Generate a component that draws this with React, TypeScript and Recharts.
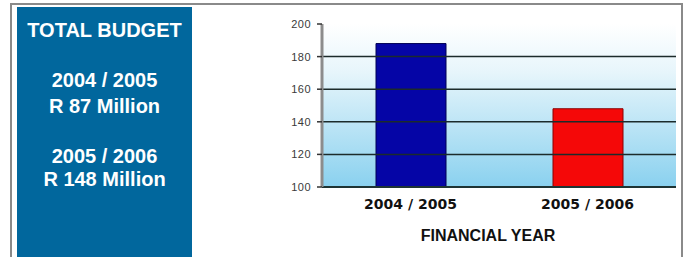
import React from 'react';
import { BarChart, Bar, XAxis, YAxis, ReferenceArea, ReferenceLine, Cell } from 'recharts';

const years = ['2004 / 2005', '2005 / 2006'];
const budgets = [188, 148];
const barColors = ['#0505a6', '#f50808'];
const barStrokes = ['#000055', '#8a0000'];
const yTicks = [100, 120, 140, 160, 180, 200];
const gridValues = [120, 140, 160, 180];
const summaryLines = [
  { text: 'TOTAL BUDGET', top: 17 },
  { text: '2004 / 2005', top: 67 },
  { text: 'R 87 Million', top: 93 },
  { text: '2005 / 2006', top: 143 },
  { text: 'R 148 Million', top: 166 },
];

const data = years.map((name, i) => ({ name, value: budgets[i] }));

export default function App() {
  return (
    <div
      style={{
        position: 'absolute',
        left: 0,
        top: 0,
        width: 685,
        height: 257,
        background: '#fff',
        overflow: 'hidden',
        fontFamily: '"Liberation Sans", Arial, sans-serif',
      }}
    >
      {/* outer frame */}
      <div
        style={{
          position: 'absolute',
          left: 10,
          top: 3,
          width: 669,
          height: 260,
          borderLeft: '2px solid #8a8a8a',
          borderTop: '2px solid #8a8a8a',
          borderRight: '2px solid #8a8a8a',
        }}
      />
      {/* budget summary box */}
      <div
        style={{
          position: 'absolute',
          left: 17,
          top: 7,
          width: 175,
          height: 250,
          background: '#01679d',
        }}
      />
      {summaryLines.map((l) => (
        <div
          key={l.text}
          style={{
            position: 'absolute',
            left: 17,
            width: 175,
            top: l.top,
            lineHeight: '26px',
            fontSize: 20,
            fontWeight: 'bold',
            color: '#fff',
            textAlign: 'center',
          }}
        >
          {l.text}
        </div>
      ))}
      <div style={{ position: 'absolute', left: 270, top: 0 }}>
        <BarChart
          width={415}
          height={257}
          data={data}
          margin={{ top: 24, right: 9, bottom: 0, left: 0 }}
          barSize={70}
        >
          <defs>
            <linearGradient id="bgGrad" x1="0" y1="0" x2="0" y2="1">
              <stop offset="0%" stopColor="#ffffff" />
              <stop offset="30%" stopColor="#e6f5fb" />
              <stop offset="100%" stopColor="#8ad1ef" />
            </linearGradient>
          </defs>
          <ReferenceArea y1={100} y2={200} fill="url(#bgGrad)" fillOpacity={1} stroke="none" />
          {gridValues.map((v) => (
            <ReferenceLine key={v} y={v} stroke="#1c2b2b" strokeWidth={1.5} />
          ))}
          <XAxis
            dataKey="name"
            height={70}
            stroke="#1e3434"
            strokeWidth={2}
            tickLine={false}
            tickMargin={6}
            tick={{ fontSize: 14, fontWeight: 'bold', fill: '#111', fontFamily: '"DejaVu Sans", Verdana, sans-serif' }}
            label={{
              value: 'FINANCIAL YEAR',
              position: 'insideBottom',
              offset: 16,
              dx: -11,
              style: { fontSize: 16, fontWeight: 'bold', fill: '#111', fontFamily: '"Liberation Sans", Arial, sans-serif' },
            }}
          />
          <YAxis
            type="number"
            domain={[100, 200]}
            ticks={yTicks}
            width={52}
            interval={0}
            stroke="#8c8c8c"
            strokeWidth={3}
            tickLine={{ stroke: '#333', strokeWidth: 1.5 }}
            tickSize={5}
            tickMargin={6}
            tick={{ fontSize: 11, fill: '#3a3a3a', letterSpacing: 0.5 }}
          />
          <Bar dataKey="value" isAnimationActive={false}>
            {data.map((d, i) => (
              <Cell key={d.name} fill={barColors[i]} stroke={barStrokes[i]} strokeWidth={1} />
            ))}
          </Bar>
        </BarChart>
      </div>
    </div>
  );
}
